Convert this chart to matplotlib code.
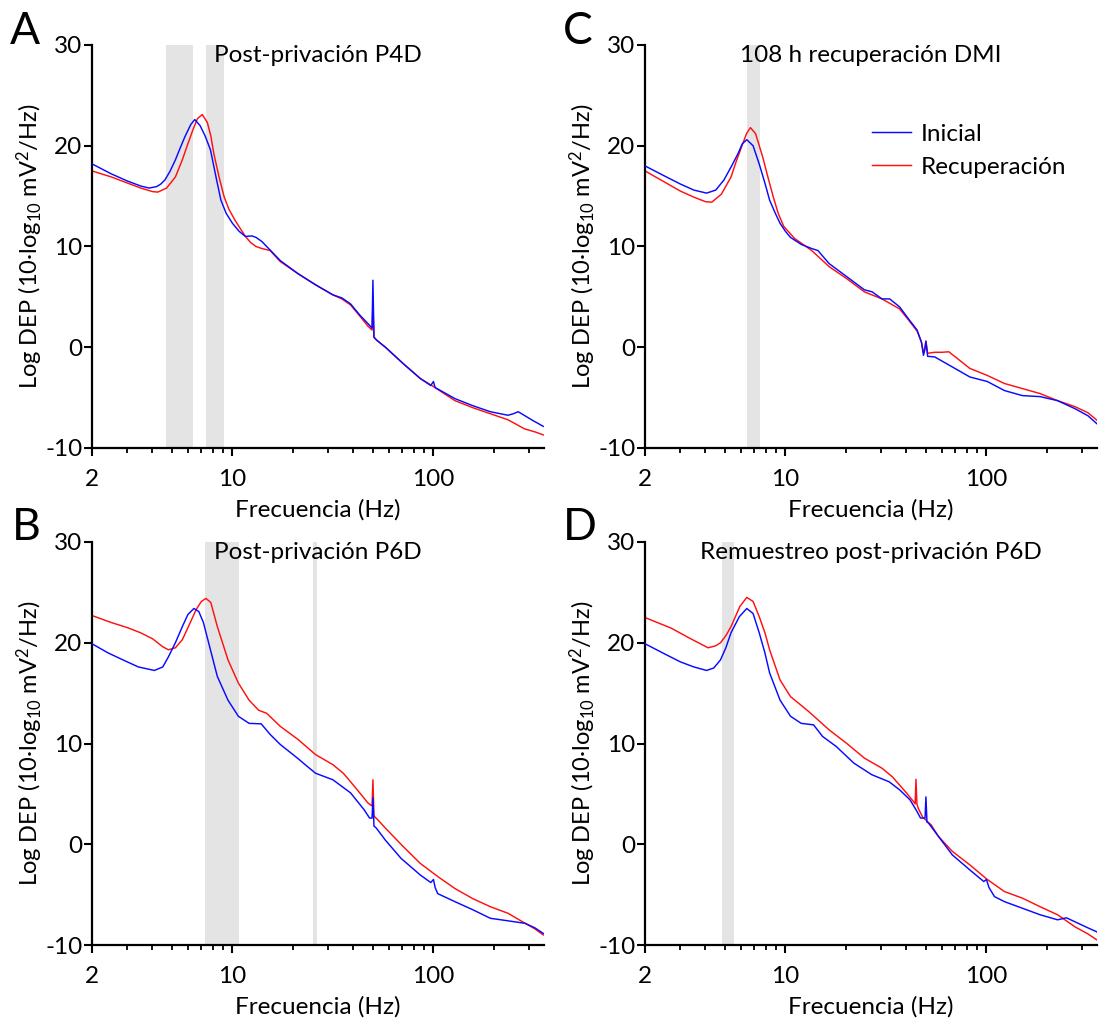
import matplotlib
matplotlib.use("Agg")
import matplotlib.pyplot as plt
from matplotlib.ticker import FixedLocator, NullFormatter, FixedFormatter

plt.rcParams['font.family'] = ['Lato', 'DejaVu Sans']
plt.rcParams['mathtext.fontset'] = 'custom'
plt.rcParams['mathtext.rm'] = 'Lato'
plt.rcParams['mathtext.it'] = 'Lato:italic'
plt.rcParams['mathtext.bf'] = 'Lato:bold'

# ---------------- data ----------------
panel_letters = ["A", "C", "B", "D"]
panel_titles = ["Post-privación P4D", "108 h recuperación DMI",
                "Post-privación P6D", "Remuestreo post-privación P6D"]
legend_labels = ["Inicial", "Recuperación"]
x_tick_values = [2, 10, 100]
x_tick_labels = ["2", "10", "100"]
x_minor_values = [3, 4, 5, 6, 7, 8, 9, 20, 30, 40, 50, 60, 70, 80, 90, 200, 300]
y_tick_values = [-10, 0, 10, 20, 30]
y_tick_labels = ["-10", "0", "10", "20", "30"]

# Panel A
a_blue_f = [2, 2.5, 3, 3.5, 3.85, 4.2, 4.4, 4.61, 4.9, 5.2, 5.5, 5.8, 6.2, 6.49, 6.9, 7.3, 7.77, 8.3, 8.76, 9.3, 10,
            10.8, 11.6, 12.5, 13.1, 14, 14.8, 17.3, 21.2, 25.9, 31.6, 35, 38.7, 43, 47.2, 49.5, 50, 50.6, 52.2,
            57.7, 70.5, 86, 97, 100, 102, 128, 157, 192, 235, 250, 264, 280, 311, 352]
a_blue_v = [18.2, 17.2, 16.5, 16.0, 15.8, 15.95, 16.2, 16.6, 17.5, 18.6, 19.8, 20.9, 22.1, 22.6, 22.0, 21.0, 19.6,
            16.8, 14.6, 13.3, 12.3, 11.5, 11.0, 11.05, 10.9, 10.5, 10.0, 8.6, 7.3, 6.2, 5.2, 4.9, 4.3, 3.2, 2.35,
            1.9, 6.65, 1.0, 0.7, 0.0, -1.6, -3.1, -3.8, -3.4, -4.0, -5.1, -5.8, -6.4, -6.75, -6.6, -6.4, -6.7,
            -7.25, -7.85]
a_red_f = [2, 2.5, 3, 3.5, 4.0, 4.25, 4.7, 5.2, 5.63, 6.0, 6.36, 6.7, 7.08, 7.5, 7.8, 8.08, 8.6, 9.1, 9.6, 10.3,
           11.0, 11.6, 12.3, 13.1, 14, 15.4, 17.3, 21.2, 25.9, 31.6, 35, 38.7, 43, 47.2, 49.5, 50, 50.6, 52.2,
           57.7, 70.5, 86, 100, 128, 157, 192, 235, 284, 320, 352]
a_red_v = [17.5, 16.9, 16.3, 15.8, 15.45, 15.4, 15.8, 16.9, 18.6, 20.2, 21.6, 22.7, 23.1, 22.3, 21.0, 19.2, 16.8,
           14.9, 13.7, 12.6, 11.7, 11.0, 10.4, 10.0, 9.8, 9.6, 8.5, 7.3, 6.2, 5.2, 4.8, 4.2, 3.1, 2.1, 1.7, 4.2,
           1.0, 0.7, 0.0, -1.6, -3.1, -3.9, -5.3, -6.0, -6.6, -7.2, -8.1, -8.4, -8.7]
a_bands = [(4.65, 6.36), (7.35, 9.1)]

# Panel C
c_blue_f = [2, 2.5, 3, 3.5, 4.05, 4.5, 4.94, 5.4, 5.8, 6.1, 6.42, 6.9, 7.4, 7.9, 8.34, 8.9, 9.4, 10, 10.6, 12,
            13.5, 14.5, 16.5, 20.2, 24.7, 27, 30.2, 33, 37, 41, 45.2, 47.5, 48.6, 49.3, 50, 51, 55.3, 67.6, 82.7,
            101, 123, 151, 185, 226, 276, 320, 355]
c_blue_v = [18.0, 17.0, 16.2, 15.6, 15.3, 15.6, 16.6, 18.0, 19.2, 20.2, 20.6, 20.0, 18.2, 16.3, 14.6, 13.3, 12.3,
            11.5, 10.9, 10.2, 9.8, 9.6, 8.3, 7.0, 5.7, 5.5, 4.8, 4.8, 4.0, 2.8, 1.7, 0.5, -0.8, -0.3, 0.6, -0.9,
            -0.96, -1.95, -2.95, -3.4, -4.3, -4.8, -4.9, -5.3, -6.1, -6.8, -7.6]
c_red_f = [2, 2.5, 3, 3.5, 4.0, 4.3, 4.8, 5.36, 5.7, 6.05, 6.4, 6.69, 7.1, 7.7, 8.2, 8.7, 9.2, 9.8, 11.1, 13.5,
           16.5, 20.2, 24.7, 30.2, 37, 41, 45.2, 47.5, 48.6, 49.3, 50, 51, 55.3, 60, 65, 73.6, 82.7, 101, 123, 151,
           185, 226, 276, 320, 355]
c_red_v = [17.5, 16.4, 15.5, 14.9, 14.45, 14.4, 15.2, 16.9, 18.5, 19.9, 21.2, 21.8, 21.2, 18.9, 16.8, 14.9, 13.3,
           12.0, 10.8, 9.6, 8.0, 6.8, 5.5, 4.8, 3.8, 2.7, 1.6, 0.5, -0.5, -0.2, 0.6, -0.6, -0.5, -0.5, -0.45, -1.3,
           -2.1, -2.8, -3.6, -4.1, -4.6, -5.3, -5.9, -6.5, -7.25]
c_bands = [(6.47, 7.48)]

# Panel B
b_blue_f = [2, 2.4, 2.85, 3.4, 4.09, 4.5, 4.8, 5.2, 5.63, 6.0, 6.43, 6.8, 7.17, 7.77, 8.41, 9.5, 10.7, 12.1, 13.9,
            15.4, 17.3, 21.2, 23, 25.9, 31.6, 38.7, 45.3, 48.1, 49.5, 50, 50.6, 52, 57.7, 69, 86, 97, 100, 102,
            105, 128, 157, 192, 235, 286, 320, 352]
b_blue_v = [19.9, 19.0, 18.3, 17.6, 17.25, 17.6, 18.6, 20.0, 21.6, 22.8, 23.4, 23.1, 22.0, 19.3, 16.65, 14.3, 12.7,
            12.0, 11.95, 10.9, 9.9, 8.5, 7.9, 7.05, 6.4, 5.1, 3.4, 2.6, 2.6, 4.6, 1.8, 1.6, 0.4, -1.4, -3.05, -3.8,
            -3.5, -4.3, -4.9, -5.7, -6.5, -7.35, -7.6, -7.85, -8.3, -8.85]
b_red_f = [2, 2.5, 3, 3.48, 4.0, 4.5, 4.8, 5.2, 5.63, 6.1, 6.6, 7.0, 7.38, 7.8, 8.41, 9.5, 10.7, 12.1, 13.5, 14.8,
           17.3, 21.2, 25.9, 31.6, 35.6, 38.7, 43, 47.2, 49.5, 50, 50.6, 53, 57.7, 70.5, 86, 105, 128, 157, 192,
           235, 286, 320, 352]
b_red_v = [22.7, 22.0, 21.5, 21.0, 20.4, 19.6, 19.3, 19.5, 20.3, 21.8, 23.3, 24.1, 24.4, 24.0, 21.6, 18.3, 16.0,
           14.3, 13.3, 13.0, 11.7, 10.4, 8.9, 7.9, 7.05, 6.2, 5.1, 4.1, 3.8, 6.4, 2.8, 2.4, 1.6, -0.2, -1.9, -3.2,
           -4.4, -5.4, -6.2, -6.85, -7.85, -8.4, -9.0]
b_bands = [(7.31, 10.8), (25.1, 26.4)]

# Panel D
d_blue_f = [2, 2.5, 3, 3.5, 4.05, 4.4, 4.75, 5.05, 5.36, 5.9, 6.42, 6.9, 7.4, 7.9, 8.34, 9.4, 10.6, 11.98, 13.8,
            15.3, 17.9, 21.9, 26.9, 32.8, 37, 41.7, 45, 47, 49.5, 50, 50.6, 51.5, 57.6, 67.6, 82.7, 97, 100, 103,
            109.7, 123, 151, 185, 226, 250, 276, 320, 355]
d_blue_v = [19.9, 18.9, 18.1, 17.6, 17.25, 17.5, 18.3, 19.5, 21.0, 22.6, 23.4, 22.9, 21.0, 19.0, 17.0, 14.3, 12.7,
            12.0, 11.85, 10.7, 9.7, 8.05, 6.9, 6.2, 5.4, 4.4, 3.3, 2.6, 2.6, 4.7, 2.2, 2.1, 0.8, -1.05, -2.55, -3.7,
            -3.5, -4.3, -5.2, -5.7, -6.35, -7.0, -7.5, -7.3, -7.7, -8.3, -8.7]
d_red_f = [2, 2.7, 3.3, 4.12, 4.5, 4.75, 5.05, 5.36, 5.93, 6.42, 6.9, 7.4, 7.9, 8.34, 9.4, 10.6, 13, 16.5, 20.2,
           24.7, 30.2, 34, 40, 43.5, 44.2, 44.6, 45.1, 45.7, 48.1, 53.2, 57.6, 67.6, 82.7, 101, 123, 151, 185, 226,
           276, 320, 355]
d_red_v = [22.5, 21.45, 20.5, 19.5, 19.7, 20.0, 20.7, 21.6, 23.6, 24.5, 24.1, 22.6, 21.0, 19.3, 16.3, 14.65, 13.2,
           11.35, 10.0, 8.55, 7.55, 6.7, 5.1, 4.2, 4.0, 6.45, 4.0, 3.6, 2.7, 1.9, 0.8, -0.7, -2.05, -3.5, -4.7,
           -5.35, -6.2, -7.0, -8.2, -8.9, -9.5]
d_bands = [(4.81, 5.53)]

# ---------------- layout ----------------
W, H = 1099, 1021
fig = plt.figure(figsize=(W / 100, H / 100), dpi=100)
fig.patch.set_facecolor('white')


def rect(l, t, r, b):
    return [l / W, 1 - b / H, (r - l) / W, (b - t) / H]


BLUE = '#0a0aff'
RED = '#ff1010'
BAND = '#e4e4e4'

panels = [
    (rect(92, 45, 544, 448), a_blue_f, a_blue_v, a_red_f, a_red_v, a_bands, (10, 44)),
    (rect(645, 45, 1097, 448), c_blue_f, c_blue_v, c_red_f, c_red_v, c_bands, (563, 44)),
    (rect(92, 542, 544, 945), b_blue_f, b_blue_v, b_red_f, b_red_v, b_bands, (12, 540)),
    (rect(645, 542, 1097, 945), d_blue_f, d_blue_v, d_red_f, d_red_v, d_bands, (563, 540)),
]

for i, (r, bf, bv, rf, rv, bands, lpos) in enumerate(panels):
    ax = fig.add_axes(r)
    for (x0, x1) in bands:
        ax.axvspan(x0, x1, color=BAND, lw=0, zorder=0)
    lb, = ax.plot(bf, bv, color=BLUE, lw=1.05, zorder=3)
    lr, = ax.plot(rf, rv, color=RED, lw=1.05, zorder=2)
    ax.set_xscale('log')
    ax.set_xlim(2, 355)
    ax.set_ylim(-10, 30)
    for s in ['top', 'right']:
        ax.spines[s].set_visible(False)
    for s in ['left', 'bottom']:
        ax.spines[s].set_linewidth(1.6)
    ax.xaxis.set_major_locator(FixedLocator(x_tick_values))
    ax.xaxis.set_major_formatter(FixedFormatter(x_tick_labels))
    ax.xaxis.set_minor_locator(FixedLocator(x_minor_values))
    ax.xaxis.set_minor_formatter(NullFormatter())
    ax.yaxis.set_major_locator(FixedLocator(y_tick_values))
    ax.yaxis.set_major_formatter(FixedFormatter(y_tick_labels))
    ax.tick_params(axis='both', which='major', length=6, width=1.5, labelsize=17.5, direction='out')
    ax.tick_params(axis='x', which='major', pad=9)
    ax.tick_params(axis='y', which='major', pad=1)
    ax.tick_params(axis='x', which='minor', length=3.5, width=1.3, direction='out')
    ax.set_xlabel('Frecuencia (Hz)', fontsize=17.5, labelpad=7)
    ax.set_ylabel('Log DEP (10·log$_{10}$ mV$^{2}$/Hz)', fontsize=17, labelpad=0)
    ax.text(0.5, 1.0, panel_titles[i], transform=ax.transAxes, ha='center', va='top',
            fontsize=17.5, zorder=5)
    fig.text(lpos[0] / W, 1 - lpos[1] / H, panel_letters[i], fontsize=32, ha='left', va='baseline')
    if i == 1:
        ax.legend([lb, lr], legend_labels, loc='upper left', bbox_to_anchor=(0.502, 0.805),
                  frameon=False, fontsize=17.5, handlelength=1.6, handletextpad=0.4,
                  labelspacing=0.5, borderaxespad=0, borderpad=0)

fig.savefig('out.png', dpi=100, facecolor='white')
